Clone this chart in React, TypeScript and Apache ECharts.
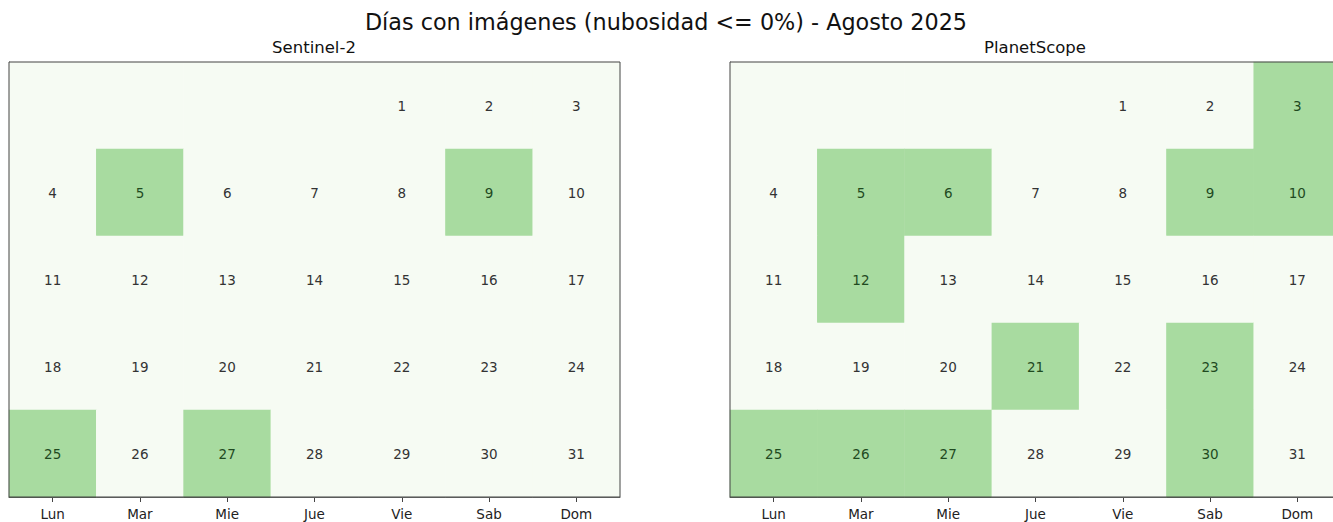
import React, { useEffect, useRef } from "react";
import * as echarts from "echarts";

const weekdays = ["Lun", "Mar", "Mie", "Jue", "Vie", "Sab", "Dom"];
const daysInMonth = 31;
const firstWeekdayIndex = 4; // 1 Aug 2025 = Vie
const sentinelDays = [5, 9, 25, 27];
const planetDays = [3, 5, 6, 9, 10, 12, 21, 23, 25, 26, 27, 30];
const titleText = "Días con imágenes (nubosidad <= 0%) - Agosto 2025";
const panelTitles = ["Sentinel-2", "PlanetScope"];

const LIGHT = "#f6fbf3";
const GREEN = "#a8dba0";
const FONT = "DejaVu Sans";

function buildData(selected: number[]) {
  const rows = 5;
  const out: any[] = [];
  for (let r = 0; r < rows; r++) {
    for (let c = 0; c < 7; c++) {
      const day = r * 7 + c - firstWeekdayIndex + 1;
      const valid = day >= 1 && day <= daysInMonth;
      const on = valid && selected.includes(day);
      out.push({
        value: [c, r, on ? 1 : 0, valid ? day : ""],
        label: { color: on ? "#1f4a1f" : "#333333" },
      });
    }
  }
  return out;
}

const weekRows = ["0", "1", "2", "3", "4"];

export default function App() {
  const ref = useRef<HTMLDivElement>(null);
  useEffect(() => {
    if (!ref.current) return;
    const chart = echarts.init(ref.current, null, { renderer: "svg" });
    const grids = [
      { left: 9, top: 62, width: 611, height: 435 },
      { left: 730, top: 62, width: 611, height: 435 },
    ];
    const mkX = (i: number) => ({
      type: "category",
      gridIndex: i,
      data: weekdays,
      position: "bottom",
      axisLine: { show: true, lineStyle: { color: "#444", width: 1 } },
      axisTick: { show: true, alignWithLabel: true, length: 5, lineStyle: { color: "#444" } },
      axisLabel: { color: "#222", fontSize: 13.5, fontFamily: FONT, margin: 10 },
      splitLine: { show: false },
    });
    const mkY = (i: number) => ({
      type: "category",
      gridIndex: i,
      data: weekRows,
      inverse: true,
      axisLine: { show: true, lineStyle: { color: "#444", width: 1 } },
      axisTick: { show: false },
      axisLabel: { show: false },
      splitLine: { show: false },
    });
    const mkSeries = (i: number, sel: number[]) => ({
      type: "heatmap",
      xAxisIndex: i,
      yAxisIndex: i,
      data: buildData(sel),
      label: {
        show: true,
        fontSize: 13.5,
        fontFamily: FONT,
        formatter: (p: any) => String(p.value[3]),
      },
      itemStyle: { borderWidth: 0 },
      emphasis: { disabled: true },
    });
    chart.setOption({
      animation: false,
      backgroundColor: "#ffffff",
      graphic: [
        {
          type: "text",
          x: 666,
          y: 22,
          style: { text: titleText, fontSize: 22.3, fontFamily: FONT, fill: "#111", align: "center", verticalAlign: "middle" },
        },
        {
          type: "text",
          x: 314,
          y: 47,
          style: { text: panelTitles[0], fontSize: 16.5, fontFamily: FONT, fill: "#111", align: "center", verticalAlign: "middle" },
        },
        {
          type: "text",
          x: 1035,
          y: 47,
          style: { text: panelTitles[1], fontSize: 16.5, fontFamily: FONT, fill: "#111", align: "center", verticalAlign: "middle" },
        },
      ],
      visualMap: {
        type: "piecewise",
        show: false,
        dimension: 2,
        seriesIndex: [0, 1],
        pieces: [
          { value: 0, color: LIGHT },
          { value: 1, color: GREEN },
        ],
      },
      grid: grids.map((g) => ({ ...g, show: true, borderColor: "#444", borderWidth: 1, backgroundColor: "transparent", z: 10 })),
      xAxis: [mkX(0), mkX(1)],
      yAxis: [mkY(0), mkY(1)],
      series: [mkSeries(0, sentinelDays), mkSeries(1, planetDays)],
    });
    return () => chart.dispose();
  }, []);
  return (
    <div style={{ position: "fixed", left: 0, top: 0, width: 1333, height: 522, overflow: "hidden" }}>
      <div ref={ref} style={{ width: 1350, height: 522 }} />
    </div>
  );
}
